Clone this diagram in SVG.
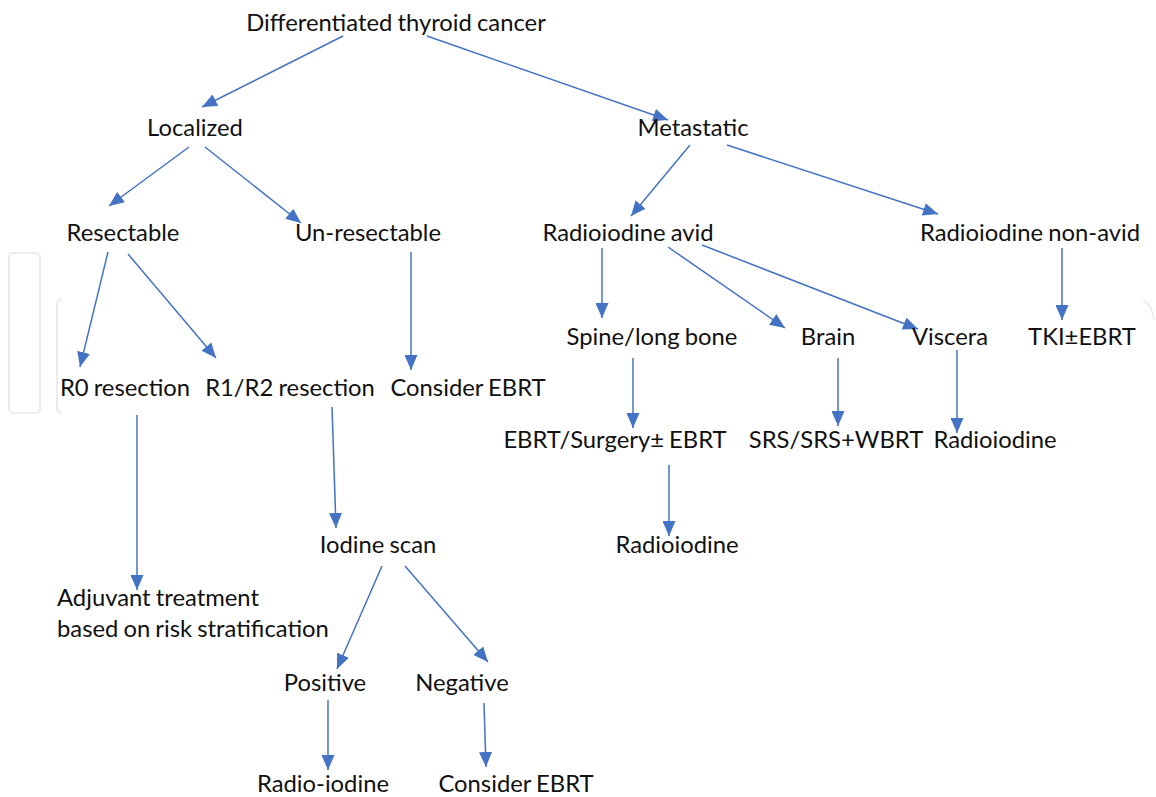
<svg xmlns="http://www.w3.org/2000/svg" width="1156" height="797" viewBox="0 0 1156 797">
<style>
text{font-family:Lato,"Open Sans","Liberation Sans",sans-serif;font-size:23.8px;fill:#111;text-anchor:middle;word-spacing:-1px}
.l{text-anchor:start}
.c line{stroke:#4472C4;stroke-width:1.5;marker-end:url(#ah)}
.wm{fill:none;stroke:#ececec;stroke-width:2}
</style>
<defs>
<marker id="ah" markerUnits="userSpaceOnUse" markerWidth="15" markerHeight="13" refX="15" refY="6.5" orient="auto">
<path d="M0,0 L15,6.5 L0,13 z" fill="#4472C4"/>
</marker>
</defs>
<rect width="1156" height="797" fill="#fff"/>
<g id="watermark">
<rect class="wm" x="9" y="253" width="31" height="160" rx="4"/>
<path class="wm" d="M62,299 Q57,299 57,305 V408 Q57,413 62,413"/>
<path class="wm" d="M1143,300 Q1152,305 1154,320"/>
</g>
<g class="c" id="connectors">
<line x1="343" y1="36" x2="202" y2="107"/>
<line x1="427" y1="36" x2="668" y2="120"/>
<line x1="189" y1="147" x2="109" y2="206"/>
<line x1="205" y1="147" x2="301" y2="223"/>
<line x1="690" y1="145" x2="631" y2="216"/>
<line x1="727" y1="145" x2="938" y2="214"/>
<line x1="108" y1="252" x2="80" y2="367"/>
<line x1="128" y1="254" x2="216" y2="358"/>
<line x1="411" y1="252" x2="411" y2="370"/>
<line x1="602" y1="248" x2="602" y2="318"/>
<line x1="668" y1="247" x2="785" y2="328"/>
<line x1="702" y1="245" x2="918" y2="329"/>
<line x1="1062" y1="248" x2="1062" y2="320"/>
<line x1="137" y1="415" x2="137" y2="590"/>
<line x1="332" y1="407" x2="336" y2="528"/>
<line x1="633" y1="358" x2="633" y2="428"/>
<line x1="838" y1="358" x2="838" y2="426"/>
<line x1="957" y1="350" x2="957" y2="433"/>
<line x1="669" y1="465" x2="669" y2="536"/>
<line x1="382" y1="566" x2="337" y2="669"/>
<line x1="405" y1="566" x2="488" y2="662"/>
<line x1="328" y1="700" x2="328" y2="770"/>
<line x1="484" y1="703" x2="486" y2="767"/>
</g>
<g id="n-dtc"><text x="396" y="31">Differentiated thyroid cancer</text></g>
<g id="n-localized"><text x="195" y="136">Localized</text></g>
<g id="n-metastatic"><text x="693" y="136">Metastatic</text></g>
<g id="n-resectable"><text x="123" y="241">Resectable</text></g>
<g id="n-unresectable"><text x="368" y="241">Un-resectable</text></g>
<g id="n-avid"><text x="628" y="241">Radioiodine avid</text></g>
<g id="n-nonavid"><text x="1030" y="241">Radioiodine non-avid</text></g>
<g id="n-spine"><text x="652" y="345">Spine/long bone</text></g>
<g id="n-brain"><text x="828" y="345">Brain</text></g>
<g id="n-viscera"><text x="950" y="345">Viscera</text></g>
<g id="n-tki"><text x="1082" y="345">TKI±EBRT</text></g>
<g id="n-r0"><text x="125" y="396">R0 resection</text></g>
<g id="n-r1r2"><text x="290" y="396">R1/R2 resection</text></g>
<g id="n-consider1"><text x="468" y="396">Consider EBRT</text></g>
<g id="n-ebrtsurg"><text x="615" y="448">EBRT/Surgery± EBRT</text></g>
<g id="n-srs"><text x="836" y="448">SRS/SRS+WBRT</text></g>
<g id="n-radio-visc"><text x="995" y="448">Radioiodine</text></g>
<g id="n-radio-spine"><text x="677" y="553">Radioiodine</text></g>
<g id="n-iodinescan"><text x="378" y="553">Iodine scan</text></g>
<g id="n-adjuvant"><text class="l" x="57" y="606">Adjuvant treatment</text><text class="l" x="57" y="637">based on risk stratification</text></g>
<g id="n-positive"><text x="325" y="691">Positive</text></g>
<g id="n-negative"><text x="462" y="691">Negative</text></g>
<g id="n-radioiodine2"><text x="323" y="792">Radio-iodine</text></g>
<g id="n-consider2"><text x="516" y="792">Consider EBRT</text></g>
</svg>
